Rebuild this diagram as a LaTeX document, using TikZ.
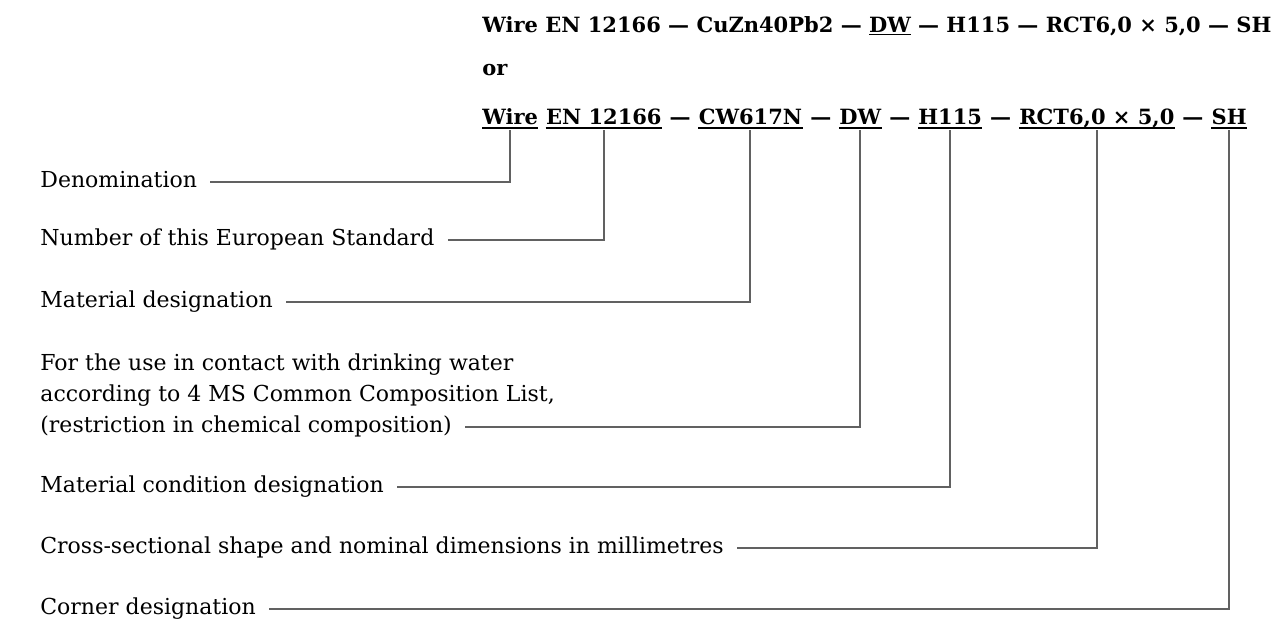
\documentclass[tikz,border=0pt]{standalone}
\usepackage{fontspec}
\setmainfont{DejaVu Serif}
\begin{document}
\begin{tikzpicture}[x=0.5pt,y=-0.5pt,
  lbl/.style={anchor=west, inner sep=0pt, font=\fontsize{11}{13}\selectfont, text height=8pt, text depth=2.5pt},
  seg/.style={anchor=base west, inner sep=0pt, font=\fontsize{10.5}{13}\selectfont\bfseries},
  leader/.style={draw=black!62, line width=1pt},
  ul/.style={draw=black, line width=0.8pt}]
\useasboundingbox (0,0) rectangle (1278,622);
% top line and "or"
\node[seg] (top) at (482,32) {Wire EN 12166 — CuZn40Pb2 — \underline{DW} — H115 — RCT6,0 × 5,0 — SH};
\node[seg] (or) at (482,75) {or};
% designation line
\node[seg] (s1) at (482,124) {Wire};
\node[seg] (s2) at ([xshift=3.6pt]s1.base east) {EN 12166};
\node[seg] (d1) at (s2.base east) {\ —\ \mbox{}};
\node[seg] (s3) at (d1.base east) {CW617N};
\node[seg] (d2) at (s3.base east) {\ —\ \mbox{}};
\node[seg] (s4) at (d2.base east) {DW};
\node[seg] (d3) at (s4.base east) {\ —\ \mbox{}};
\node[seg] (s5) at (d3.base east) {H115};
\node[seg] (d4) at (s5.base east) {\ —\ \mbox{}};
\node[seg] (s6) at (d4.base east) {RCT6,0 × 5,0};
\node[seg] (d5) at (s6.base east) {\ —\ \mbox{}};
\node[seg] (s7) at (d5.base east) {SH};
\foreach \n in {s1,s2,s3,s4,s5,s6,s7}
  \draw[ul] ([yshift=-2pt]\n.base west) -- ([yshift=-2pt]\n.base east);
% labels
\node[lbl] (l1) at (40,182) {Denomination};
\node[lbl] (l2) at (40,240) {Number of this European Standard};
\node[lbl] (l3) at (40,302) {Material designation};
\node[lbl] (l4a) at (40,365) {For the use in contact with drinking water};
\node[lbl] (l4b) at (40,396) {according to 4 MS Common Composition List,};
\node[lbl] (l4) at (40,427) {(restriction in chemical composition)};
\node[lbl] (l5) at (40,487) {Material condition designation};
\node[lbl] (l6) at (40,548) {Cross-sectional shape and nominal dimensions in millimetres};
\node[lbl] (l7) at (40,609) {Corner designation};
% leaders
\draw[leader] ([xshift=6.5pt]l1.east) -| ([yshift=-3pt]s1.base);
\draw[leader] ([xshift=6.5pt]l2.east) -| ([yshift=-3pt]s2.base);
\draw[leader] ([xshift=6.5pt]l3.east) -| ([yshift=-3pt]s3.base);
\draw[leader] ([xshift=6.5pt]l4.east) -| ([yshift=-3pt]s4.base);
\draw[leader] ([xshift=6.5pt]l5.east) -| ([yshift=-3pt]s5.base);
\draw[leader] ([xshift=6.5pt]l6.east) -| ([yshift=-3pt]s6.base);
\draw[leader] ([xshift=6.5pt]l7.east) -| ([yshift=-3pt]s7.base);
\end{tikzpicture}
\end{document}
